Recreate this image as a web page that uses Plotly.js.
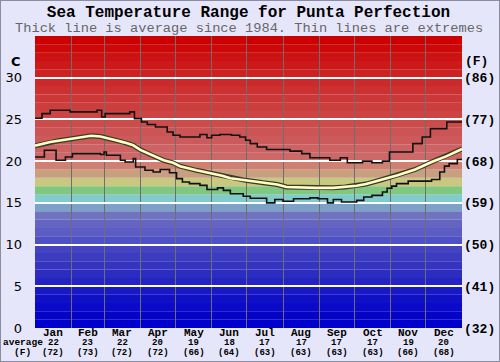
<!DOCTYPE html>
<html><head><meta charset="utf-8">
<script src="https://cdn.plot.ly/plotly-3.0.1.min.js"></script>
<style>html,body{margin:0;padding:0;background:#e6e6fa}#chart{width:498px;height:360px;border:1px solid #8c8ca0}</style>
</head><body><div id="chart"></div><script>
const months = ['Jan','Feb','Mar','Apr','May','Jun','Jul','Aug','Sep','Oct','Nov','Dec'];
const monthDays = [31,28,31,30,31,30,31,31,30,31,30,31];
const monthAvgC = ['22','23','22','20','19','18','17','17','17','17','19','20'];
const monthAvgF = ['(72)','(73)','(72)','(72)','(66)','(64)','(63)','(63)','(63)','(63)','(66)','(68)'];

const avgDay  = [0,7,13,20,27,35,41,48,56,63,69,76,84,90,100,110,118,124,138,152,160,167,180,195,207,215,225,240,255,265,275,283,297,310,325,339,352,365];
const avgTemp = [21.85,22.1,22.3,22.45,22.6,22.8,22.9,23.05,22.95,22.75,22.5,22.25,21.9,21.35,20.7,20.1,19.8,19.4,18.9,18.5,18.25,17.95,17.7,17.4,17.2,16.9,16.85,16.8,16.8,16.9,17.05,17.25,17.8,18.3,19.0,19.9,20.6,21.45];

const maxDay  = [0,6,13,30,53,57,60,81,85,91,96,103,113,118,124,141,147,151,158,168,175,180,184,190,198,218,228,235,252,261,267,280,288,297,303,323,331,338,352,365];
const maxTemp = [25.15,25.7,26.1,25.9,26.1,25.3,25.7,25.9,25.1,24.7,24.4,24.1,23.5,23.1,22.9,23.2,22.8,23.1,23.2,23.1,22.9,22.5,22.1,21.7,21.4,21.2,20.9,20.4,20.1,20.4,19.8,20.0,19.8,20.0,21.1,22.1,22.9,23.9,24.7,24.7];

const minDay  = [0,8,18,26,32,56,59,61,73,77,84,86,94,101,107,115,121,126,132,141,147,156,161,167,178,184,198,205,212,221,235,242,250,255,262,275,281,288,297,301,305,309,319,339,346,350,354,361,365];
const minTemp = [20.5,21.3,20.1,20.5,20.9,20.8,21.1,20.7,20.1,19.9,20.3,19.3,18.9,18.7,19.0,18.6,17.9,17.5,17.3,17.1,16.6,16.8,16.5,16.1,15.8,15.55,15.0,15.4,15.2,15.5,15.6,15.5,15.0,15.4,15.1,15.3,15.7,15.9,16.3,16.75,17.0,17.3,17.6,17.8,18.7,19.4,19.7,20.2,20.2];

const yTicksC = [0,5,10,15,20,25,30];
const bandColors = ['#0000cc','#0404c8','#0a0ac8','#1010c6','#1818c4','#2424c2','#2c2cc0','#3434c0','#3c3cc0','#4444c2',
  '#5050c6','#5c5cc4','#6464c2','#7074c0','#7ca2c8','#80cccc','#80c880','#c8c880','#c8a080','#d08070',
  '#cc6868','#cc6262','#cc5a5a','#cc5454','#cc4c4c','#cc4444','#cc3e3e','#cc3838','#cc3030','#cc2a2a',
  '#cc2222','#cc1a1a','#cc1212','#cc0808','#cc0000'];

const bounds = [0];
monthDays.forEach(d => bounds.push(bounds[bounds.length-1] + d));
const centers = monthDays.map((d,i) => bounds[i] + d/2);
const yTop = bandColors.length;

const shapes = bandColors.map((c,i) => ({type:'rect', xref:'paper', x0:0, x1:1, yref:'y', y0:i, y1:i+1,
  fillcolor:c, line:{width:0}, layer:'below'}));

const mono = 'Liberation Mono, Courier New, monospace';
const annotations = [];
function lab(xref, x, xshift, yshift, text, size) {
  annotations.push({xref:xref, x:x, xanchor:'center', xshift:xshift, yref:'paper', y:0, yanchor:'middle',
    yshift:yshift, showarrow:false, borderpad:0, text:text,
    font:{family:mono, size:size, color:'#000', weight:'bold'}});
}
months.forEach((m,i) => {
  lab('x', centers[i], 0, -4.8, m, 11);
  lab('x', centers[i], 0, -14.6, monthAvgC[i], 9);
  lab('x', centers[i], 0, -24.6, monthAvgF[i], 9);
});
lab('paper', 0, -12.5, -14.6, 'average', 9.5);
lab('paper', 0, -13, -24.6, '(F)', 9.5);
annotations.push({xref:'paper', x:0, xanchor:'right', xshift:-12, yref:'y', y:32, yanchor:'middle', showarrow:false,
  text:'C', font:{family:'DejaVu Sans, sans-serif', size:13, color:'#000', weight:'bold'}});
annotations.push({xref:'paper', x:1, xanchor:'left', xshift:1, yref:'y', y:32, yanchor:'middle', showarrow:false,
  text:'(F)', font:{family:mono, size:13, color:'#000', weight:'bold'}});
annotations.push({xref:'paper', x:0.5, xanchor:'center', yref:'paper', y:1, yanchor:'middle', yshift:7.5, showarrow:false,
  borderpad:0, text:'Thick line is average since 1984. Thin lines are extremes', font:{family:mono, size:13.7, color:'#666'}});

const traces = [
  {x:maxDay, y:maxTemp, mode:'lines', line:{color:'#111', width:1.6, shape:'hv'}, hoverinfo:'skip'},
  {x:minDay, y:minTemp, mode:'lines', line:{color:'#111', width:1.6, shape:'hv'}, hoverinfo:'skip'},
  {x:avgDay, y:avgTemp, mode:'lines', line:{color:'#3a3a2a', width:5}, hoverinfo:'skip'},
  {x:avgDay, y:avgTemp, mode:'lines', line:{color:'#ffffc4', width:2.6}, hoverinfo:'skip'},
  {x:[bounds[0]], y:[yTicksC[0]], yaxis:'y2', mode:'markers', marker:{opacity:0}, hoverinfo:'skip'}
];

const layout = {
  width:498, height:360,
  paper_bgcolor:'#e6e6fa', plot_bgcolor:'#e6e6fa',
  margin:{l:34, r:37, t:35, b:33},
  showlegend:false,
  title:{text:'Sea Temperature Range for Punta Perfection', x:0.5, xref:'paper', y:0.9705, yanchor:'middle',
    font:{family:mono, size:16, color:'#000', weight:'bold'}},
  xaxis:{range:[0, bounds[12]], tickvals:bounds.slice(1,12), showticklabels:false, ticks:'',
    showgrid:true, gridcolor:'#6e6e6e', gridwidth:1, zeroline:false, showline:false, fixedrange:true},
  yaxis:{range:[0, yTop], tickvals:yTicksC, ticktext:yTicksC.map(String), ticks:'', ticklabelstandoff:12,
    showgrid:true, gridcolor:'#ffffff', gridwidth:2, zeroline:false, showline:false,
    tickfont:{family:'DejaVu Sans, sans-serif', size:13, color:'#000'}},
  yaxis2:{range:[0, yTop], overlaying:'y', side:'right', tickvals:yTicksC,
    ticktext:yTicksC.map(c => '(' + Math.round(c*9/5+32) + ')'), ticks:'', ticklabelstandoff:1,
    showgrid:false, zeroline:false, showline:false,
    tickfont:{family:mono, size:13, color:'#000', weight:'bold'}},
  shapes:shapes,
  annotations:annotations
};
Plotly.newPlot('chart', traces, layout, {staticPlot:true, displayModeBar:false});
</script></body></html>
